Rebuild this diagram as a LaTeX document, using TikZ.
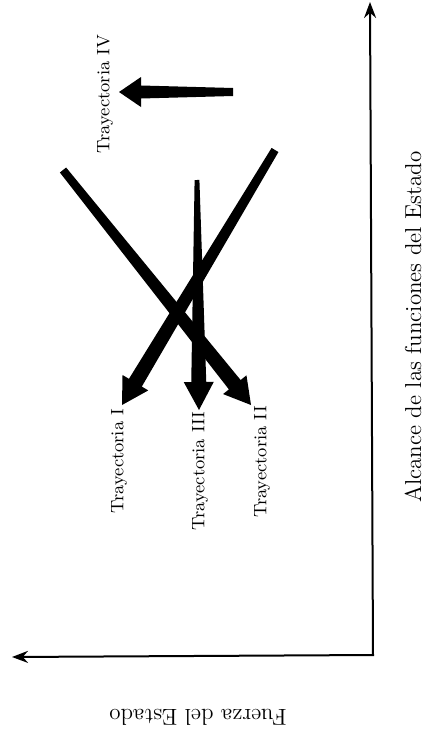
\documentclass[tikz,border=0pt]{standalone}
\usepackage{tikz}
\usetikzlibrary{arrows.meta,calc}

% thick tapered arrow: tail, tip, tail half-width, neck half-width, head half-width, head length
\newcommand{\trayarrow}[6]{%
  \coordinate (#1-neck) at ($(#2)!#6!(#1)$);
  \fill ($(#1)!#3!90:(#2)$) -- ($(#1-neck)!#4!-90:(#1)$) -- ($(#1-neck)!#5!-90:(#1)$)
    -- (#2) -- ($(#1-neck)!#5!90:(#1)$) -- ($(#1-neck)!#4!90:(#1)$)
    -- ($(#1)!#3!-90:(#2)$) -- cycle;}

\begin{document}
\begin{tikzpicture}[x=0.5pt, y=-0.5pt,
  axis/.style={line width=1pt, {Stealth[length=8pt,width=6pt]}-{Stealth[length=8pt,width=6pt]}},
  lab/.style={rotate=90, font=\fontsize{9}{10}\selectfont, inner sep=0pt},
  axislab/.style={font=\fontsize{11.5}{13}\selectfont, inner sep=0pt}]
\useasboundingbox (0,0) rectangle (423,739);
% axes
\coordinate (origin) at (373,655);
\coordinate (ytop) at (370,2);
\coordinate (xend) at (12,657);
\draw[axis] (xend) -- (origin) -- (ytop);
\node[axislab, rotate=90] (alcance) at (413,327) {Alcance de las funciones del Estado};
\node[axislab, rotate=180] (fuerza) at (198,717) {Fuerza del Estado};
% trayectorias
\coordinate (tailI) at (275,150);   \coordinate (tipI) at (122,405);
\coordinate (tailII) at (63,170);   \coordinate (tipII) at (251,405);
\coordinate (tailIII) at (197,180); \coordinate (tipIII) at (199,410);
\coordinate (tailIV) at (233,92);   \coordinate (tipIV) at (119,92);
\trayarrow{tailI}{tipI}{2pt}{3.75pt}{7.5pt}{13pt}
\trayarrow{tailII}{tipII}{2pt}{3.75pt}{7.5pt}{13pt}
\trayarrow{tailIII}{tipIII}{1.2pt}{3.75pt}{7.5pt}{14pt}
\trayarrow{tailIV}{tipIV}{2pt}{3.25pt}{7.5pt}{11pt}
\node[lab] (trayI) at (119,461) {Trayectoria I};
\node[lab] (trayII) at (262,462) {Trayectoria II};
\node[lab] (trayIII) at (200,471) {Trayectoria III};
\node[lab] (trayIV) at (105,94) {Trayectoria IV};
\end{tikzpicture}
\end{document}
